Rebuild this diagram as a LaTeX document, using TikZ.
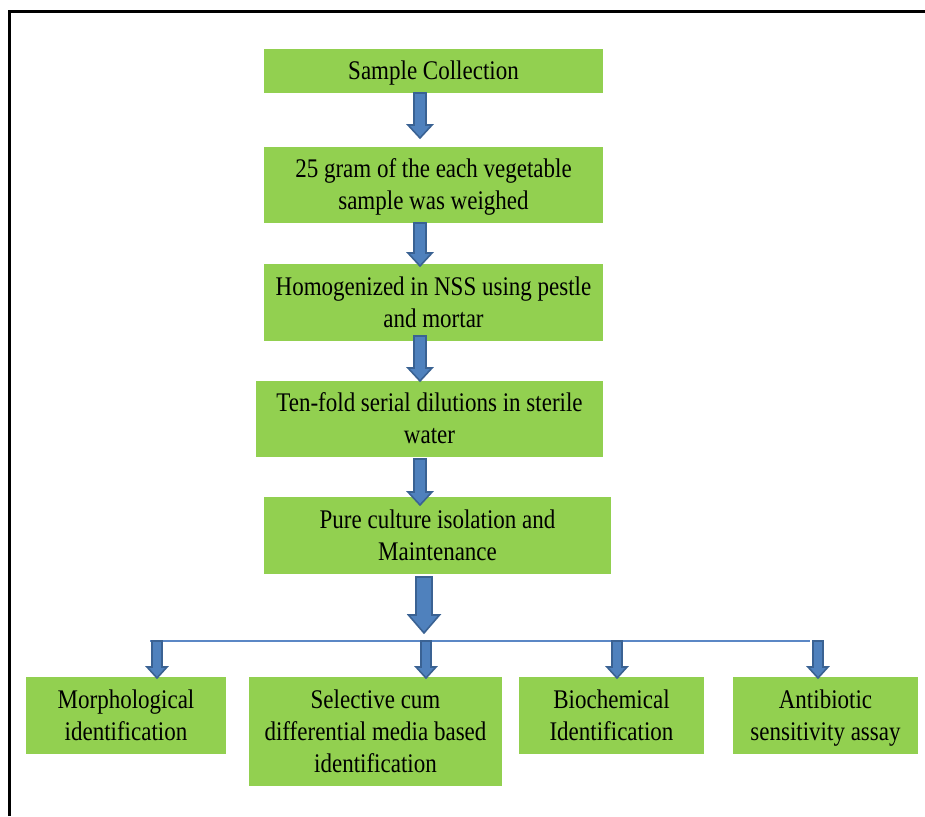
\documentclass[tikz,border=0pt]{standalone}
\usepackage{fontspec}
\setmainfont{Liberation Serif}
\usetikzlibrary{calc}
\definecolor{boxgreen}{HTML}{92D050}
\definecolor{arrfill}{HTML}{4F81BD}
\definecolor{arrline}{HTML}{3A6293}
\definecolor{busline}{HTML}{5B87C5}
\newcommand\lbl[1]{\raisebox{0pt}[\dimexpr\height+5pt\relax][\depth]{\scalebox{1}[1.17]{\begin{tabular}{@{}c@{}}#1\end{tabular}}}}
% block arrow: #1 top point, #2 tip point, #3 half shaft, #4 half head, #5 head length
\newcommand\barrow[5]{%
  \draw[blockarrow] let \p1=(#1), \p2=(#2) in
    (\x1-#3,\y1) -- (\x1+#3,\y1) -- (\x1+#3,\y2+#5) -- (\x1+#4,\y2+#5) --
    (\x1,\y2) -- (\x1-#4,\y2+#5) -- (\x1-#3,\y2+#5) -- cycle;}
\begin{document}
\begin{tikzpicture}[x={(1pt,0)}, y={(0,-1pt)},
  box/.style={fill=boxgreen, inner sep=0pt, outer sep=0pt,
    font=\fontsize{23}{27.35}\selectfont},
  blockarrow/.style={fill=arrfill, draw=arrline, line width=1.6pt, line join=miter},
  bus/.style={draw=busline, line width=1.5pt}]
\useasboundingbox (0,0) rectangle (925,816);
% frame
\draw[line width=3pt] (9.5,816) -- (9.5,11.5) -- (925,11.5);
% main boxes
\node[box, minimum width=339pt, minimum height=44pt] (b1) at (433.5,71) {\lbl{Sample Collection}};
\node[box, minimum width=339pt, minimum height=76pt] (b2) at (433.5,185) {\lbl{25 gram of the each vegetable\\sample was weighed}};
\node[box, minimum width=339pt, minimum height=77pt] (b3) at (433.5,302.5) {\lbl{Homogenized in NSS using pestle\\and mortar}};
\node[box, minimum width=347pt, minimum height=76pt] (b4) at (429.5,419) {\lbl{Ten-fold serial dilutions in sterile\\water}};
\node[box, minimum width=347pt, minimum height=77pt] (b5) at (437.5,535.5) {\lbl{Pure culture isolation and\\Maintenance}};
% bottom boxes
\node[box, minimum width=200pt, minimum height=77pt] (c1) at (126,715.5) {\lbl{Morphological\\identification}};
\node[box, minimum width=253pt, minimum height=109pt] (c2) at (375.5,731.5) {\lbl{Selective cum\\differential media based\\identification}};
\node[box, minimum width=185pt, minimum height=77pt] (c3) at (611.5,715.5) {\lbl{Biochemical\\Identification}};
\node[box, minimum width=185pt, minimum height=77pt] (c4) at (825.5,715.5) {\lbl{Antibiotic\\sensitivity assay}};
% arrow axes
\coordinate (ax) at (420,0);
\coordinate (ax5) at (424,0);
\coordinate (split) at (424,633);
\coordinate (busL) at (150,641);
\coordinate (busR) at (810,641);
\coordinate (t1) at (157,641);
\coordinate (t2) at (426,641);
\coordinate (t3) at (617,641);
\coordinate (t4) at (818,641);
% main arrows
\barrow{ax |- b1.south}{$(ax |- b2.north)+(0,-9)$}{6pt}{12pt}{13pt}
\barrow{ax |- b2.south}{$(ax |- b3.north)+(0,2)$}{6pt}{12pt}{13pt}
\barrow{$(ax |- b3.south)+(0,-5)$}{ax |- b4.north}{6pt}{12pt}{13pt}
\barrow{$(ax |- b4.south)+(0,2)$}{$(ax |- b5.north)+(0,8)$}{6pt}{12pt}{13pt}
\barrow{$(ax5 |- b5.south)+(0,3)$}{split}{8pt}{15.5pt}{18pt}
% bus line
\draw[bus] (busL) -- (busR);
% branch arrows
\barrow{t1}{$(t1 |- c1.north)+(0,1)$}{5pt}{10pt}{11pt}
\barrow{t2}{$(t2 |- c2.north)+(0,1)$}{5pt}{10pt}{11pt}
\barrow{t3}{$(t3 |- c3.north)+(0,1)$}{5pt}{10pt}{11pt}
\barrow{t4}{$(t4 |- c4.north)+(0,1)$}{5pt}{10pt}{11pt}
\end{tikzpicture}
\end{document}
